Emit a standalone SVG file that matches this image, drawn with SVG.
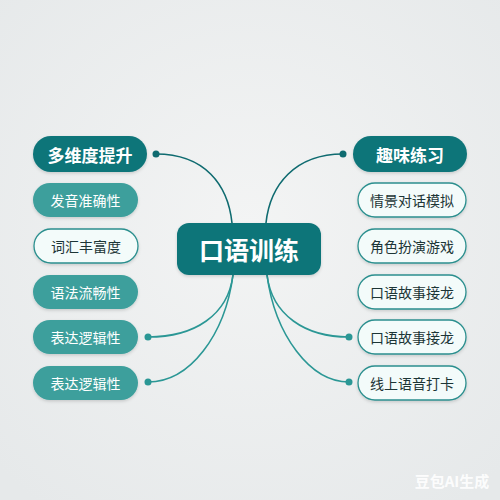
<svg xmlns="http://www.w3.org/2000/svg" width="500" height="500" viewBox="0 0 500 500">
<defs>
<radialGradient id="bg" cx="50%" cy="45%" r="70%">
<stop offset="0" stop-color="#f3f4f4"/>
<stop offset="1" stop-color="#e6e9ea"/>
</radialGradient>
<filter id="sh" x="-20%" y="-30%" width="140%" height="160%">
<feDropShadow dx="0" dy="1.5" stdDeviation="1.5" flood-color="#000" flood-opacity="0.15"/>
</filter>
</defs>
<style>
text{font-family:"Noto Sans CJK SC","Noto Sans",sans-serif;text-anchor:middle;dominant-baseline:central}
.dark{fill:#0f7479;filter:url(#sh)}
.mid{fill:#3d9f9c;filter:url(#sh)}
.light{fill:#f3fbfa;stroke:#2b8f8e;stroke-width:1.3;filter:url(#sh)}
.tw{fill:#ffffff;font-size:14px}
.tb{fill:#ffffff;font-size:17px;font-weight:bold}
.td{fill:#1c3536;font-size:14px}
.ct{stroke:#0f6b70;stroke-width:1.6;fill:none}
.cb{stroke:#2b9795;stroke-width:1.6;fill:none}
.dt{fill:#0f6b70}
.db{fill:#2b9795}
</style>
<rect width="500" height="500" fill="url(#bg)"/>
<g id="connectors">
<path class="ct" d="M156,154 C205,154 228,185 232,223"/>
<path class="ct" d="M343,154 C295,154 270,185 266,223"/>
<path class="cb" d="M233,275 C228,315 195,337 148,337"/>
<path class="cb" d="M233,275 C225,335 190,382 148,382"/>
<path class="cb" d="M267,275 C272,315 305,337 349,337"/>
<path class="cb" d="M267,275 C275,335 310,382 349,382"/>
<circle class="dt" cx="156" cy="154" r="3.5"/>
<circle class="dt" cx="343" cy="154" r="3.5"/>
<circle class="db" cx="148" cy="337" r="3.5"/>
<circle class="db" cx="148" cy="382" r="3.5"/>
<circle class="db" cx="349" cy="337" r="3.5"/>
<circle class="db" cx="349" cy="382" r="3.5"/>
</g>
<g id="center">
<rect class="dark" x="177" y="223" width="144" height="52" rx="12"/>
<text x="249" y="249" fill="#ffffff" font-size="25" font-weight="bold">口语训练</text>
</g>
<g id="l0"><rect class="dark" x="33" y="136" width="114" height="36" rx="18"/><text class="tb" x="90" y="154">多维度提升</text></g>
<g id="l1"><rect class="mid" x="33" y="183" width="105" height="34" rx="17"/><text class="tw" x="85.5" y="200">发音准确性</text></g>
<g id="l2"><rect class="light" x="34" y="229" width="104" height="34" rx="17"/><text class="td" x="86" y="246">词汇丰富度</text></g>
<g id="l3"><rect class="mid" x="33" y="275" width="105" height="34" rx="17"/><text class="tw" x="85.5" y="292">语法流畅性</text></g>
<g id="l4"><rect class="mid" x="33" y="320" width="105" height="34" rx="17"/><text class="tw" x="85.5" y="337">表达逻辑性</text></g>
<g id="l5"><rect class="mid" x="33" y="366" width="105" height="34" rx="17"/><text class="tw" x="85.5" y="383">表达逻辑性</text></g>
<g id="r0"><rect class="dark" x="353" y="136" width="114" height="36" rx="18"/><text class="tb" x="410" y="154">趣味练习</text></g>
<g id="r1"><rect class="light" x="358" y="183" width="108" height="34" rx="17"/><text class="td" x="412" y="200">情景对话模拟</text></g>
<g id="r2"><rect class="light" x="358" y="229" width="108" height="34" rx="17"/><text class="td" x="412" y="246">角色扮演游戏</text></g>
<g id="r3"><rect class="light" x="358" y="275" width="108" height="34" rx="17"/><text class="td" x="412" y="292">口语故事接龙</text></g>
<g id="r4"><rect class="light" x="358" y="320" width="108" height="34" rx="17"/><text class="td" x="412" y="337">口语故事接龙</text></g>
<g id="r5"><rect class="light" x="358" y="366" width="108" height="34" rx="17"/><text class="td" x="412" y="383">线上语音打卡</text></g>
<text x="452" y="480" fill="#ffffff" fill-opacity="0.9" font-size="15" font-weight="bold">豆包AI生成</text>
</svg>
